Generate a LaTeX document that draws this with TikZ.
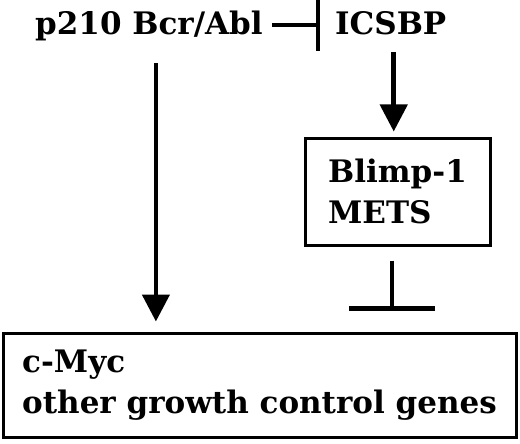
\documentclass[tikz,border=0pt]{standalone}
\usepackage{fontspec}
\setmainfont{DejaVu Serif}
\usetikzlibrary{arrows.meta}
\begin{document}
\begin{tikzpicture}[x=1pt,y=-1pt,
		font=\bfseries\fontsize{31}{41}\selectfont,
		lbl/.style={inner sep=0pt, text height=23pt, text depth=3pt},
		genebox/.style={draw, line width=3pt, align=left, inner sep=0pt},
		act/.style={line width=4.5pt, -{Triangle[width=27pt,length=27pt]}},
		inh/.style={line width=4.5pt, -{Bar[width=#1]}}]
		\useasboundingbox (0,0) rectangle (520,444);
		\node[lbl, anchor=base west] (bcr) at (35,35) {p210 Bcr/Abl};
		\node[lbl, anchor=base west] (icsbp) at (335,35) {ICSBP};
		\node[genebox, minimum width=185pt, minimum height=107pt] (blimp) at (397.5,191.5) {Blimp-1\\METS};
		\node[genebox, minimum width=513pt, minimum height=104pt] (myc) at (259.5,385) {c-Myc\\other growth control genes};
		\draw[inh=52pt, shorten <=9pt, shorten >=15pt] (bcr.east) -- (icsbp.west);
		\draw[act, shorten <=14pt, shorten >=5pt] ([xshift=3pt]icsbp.south) -- ([xshift=3pt]icsbp.south |- blimp.north);
		\draw[act, shorten <=25pt, shorten >=10pt] ([xshift=7pt]bcr.south) -- ([xshift=7pt]bcr.south |- myc.north);
		\draw[inh=86pt, shorten <=14pt, shorten >=21pt] ([xshift=-5.5pt]blimp.south) -- ([xshift=-5.5pt]blimp.south |- myc.north);
	\end{tikzpicture}
\end{document}
